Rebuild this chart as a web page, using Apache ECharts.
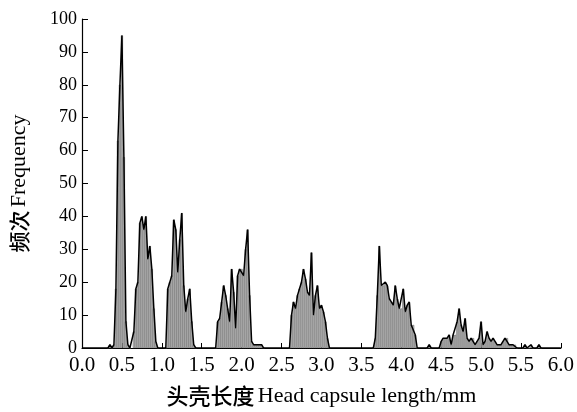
<!DOCTYPE html>
<html>
<head>
<meta charset="utf-8">
<script src="https://cdn.jsdelivr.net/npm/echarts@6/dist/echarts.min.js"></script>
<style>
html,body{margin:0;padding:0;background:#fff;}
#chart{width:577px;height:412px;}
</style>
</head>
<body>
<div id="chart"></div>
<script>
// Head capsule length bins (mm) and frequencies, grouped by cluster
const inst1Len  = [0.325,0.35,0.375,0.4,0.425,0.45,0.475,0.5,0.525,0.55,0.575,0.6];
const inst1Freq = [0,1,0,1,18,63,80,95,58,8,1,0];
const inst2Len  = [0.65,0.675,0.7,0.725,0.75,0.775,0.8,0.825,0.85,0.875,0.9,0.925,0.95];
const inst2Freq = [5,18,20,38,40,36,40,27,31,24,12,2,0];
const inst3Len  = [1.05,1.075,1.1,1.125,1.15,1.175,1.2,1.225,1.25,1.275,1.3,1.325,1.35,1.375,1.4,1.425];
const inst3Freq = [0,18,20,22,39,36,23,33,41,19,11,15,18,8,1,0];
const inst4Len  = [1.675,1.7,1.725,1.75,1.775,1.8,1.825,1.85,1.875,1.9,1.925,1.95,1.975,2.0,2.025,2.05,2.075,2.1,2.125,2.15,2.175,2.2,2.225,2.25,2.275];
const inst4Freq = [0,8,9,14,19,16,12,8,24,17,6,22,24,24,22,30,36,16,2,1,1,1,1,1,0];
const inst5Len  = [2.6,2.625,2.65,2.675,2.7,2.725,2.75,2.775,2.8,2.825,2.85,2.875,2.9,2.925,2.95,2.975,3.0,3.025,3.05,3.075,3.1];
const inst5Freq = [0,10,14,12,16,18,20,24,21,17,16,29,10,16,19,12,13,11,8,3,0];
const inst6Len  = [3.65,3.675,3.7,3.725,3.75,3.775,3.8,3.825,3.85,3.875,3.9,3.925,3.95,3.975,4.0,4.025,4.05,4.075,4.1,4.125,4.15,4.175,4.2];
const inst6Freq = [0,3,16,31,19,19,20,19,15,14,13,19,15,12,12,18,11,13,14,7,7,4,0];
const inst7Len  = [4.325,4.35,4.375,4.475,4.5,4.525,4.55,4.575,4.6,4.625,4.65,4.675,4.7,4.725,4.75,4.775,4.8,4.825,4.85,4.875,4.9,4.925,4.95,4.975,5.0,5.025,5.05,5.075,5.1,5.125,5.15,5.175,5.2,5.225,5.25,5.275,5.3,5.325,5.35,5.375,5.4,5.425,5.45,5.525,5.55,5.575,5.6,5.625,5.65,5.7,5.725,5.75];
const inst7Freq = [0,1,0,0,2,3,3,3,4,1,4,4,8,12,7,5,9,3,2,3,3,1,2,3,8,1,2,5,3,2,3,2,1,1,1,2,3,3,1,1,1,1,0,0,1,0,0,1,0,0,1,0];

const xTicks = [0,0.5,1,1.5,2,2.5,3,3.5,4,4.5,5,5.5,6];
const yTicks = [0,10,20,30,40,50,60,70,80,90,100];

const groups = [
  [inst1Len, inst1Freq],[inst2Len, inst2Freq],[inst3Len, inst3Freq],
  [inst4Len, inst4Freq],[inst5Len, inst5Freq],[inst6Len, inst6Freq],[inst7Len, inst7Freq]
];
const points = [];
groups.forEach(g => g[0].forEach((x,i) => points.push([x, g[1][i]])));
points.sort((a,b)=>a[0]-b[0]);
const lineData = [[0,0]].concat(points).concat([[6,0]]);

const serif = 'Liberation Serif, Times New Roman, serif';
const cjk = 'Noto Sans CJK SC';

const chart = echarts.init(document.getElementById('chart'), null, {renderer:'canvas'});
chart.setOption({
  animation:false,
  backgroundColor:'#fff',
  grid:{left:82, right:15, top:19, bottom:59, containLabel:false},
  xAxis:{
    type:'value', min:xTicks[0], max:xTicks[xTicks.length-1], interval:0.5,
    axisLine:{show:true, lineStyle:{color:'#000', width:1.2}},
    axisTick:{show:true, inside:true, length:5, lineStyle:{color:'#000', width:1}},
    splitLine:{show:false},
    axisLabel:{color:'#000', fontFamily:serif, fontSize:21, margin:7,
      formatter:v=>v.toFixed(1)},
    name:'{c|头壳长度} {e|Head capsule length/mm}',
    nameLocation:'middle', nameGap:37,
    nameTextStyle:{rich:{
      c:{fontFamily:cjk, fontSize:22, color:'#000', fontWeight:500},
      e:{fontFamily:serif, fontSize:22, color:'#000'}
    }}
  },
  yAxis:{
    type:'value', min:yTicks[0], max:yTicks[yTicks.length-1], interval:10,
    axisLine:{show:true, lineStyle:{color:'#000', width:1.2}},
    axisTick:{show:true, inside:true, length:6, lineStyle:{color:'#000', width:1}},
    splitLine:{show:false},
    axisLabel:{color:'#000', fontFamily:serif, fontSize:18, margin:5},
    name:'{c|频次} {e|Frequency}',
    nameLocation:'middle', nameGap:52, nameRotate:90,
    nameTextStyle:{rich:{
      c:{fontFamily:cjk, fontSize:21, color:'#000', fontWeight:500},
      e:{fontFamily:serif, fontSize:22, color:'#000'}
    }}
  },
  series:[
    {
      type:'bar', data:points, barWidth:2, barGap:'0%',
      itemStyle:{color:'#bdbdbd', borderColor:'#5a5a5a', borderWidth:0.5},
      z:2
    },
    {
      type:'line', data:lineData, showSymbol:false, symbol:'none',
      lineStyle:{color:'#000', width:1.5}, z:3
    }
  ]
});
</script>
</body>
</html>
